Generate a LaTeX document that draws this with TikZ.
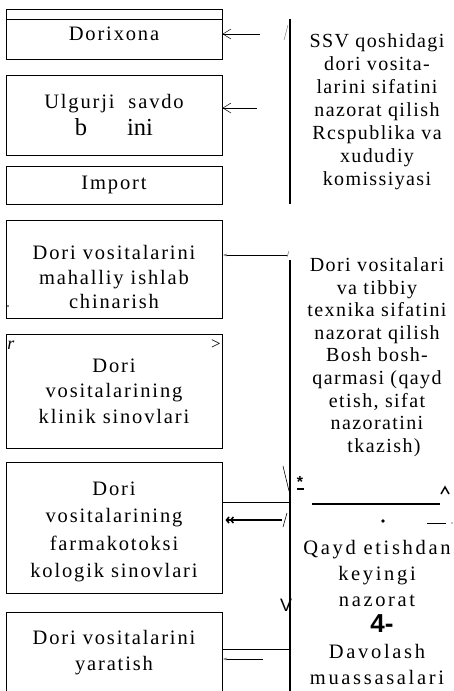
\documentclass[tikz,border=0pt]{standalone}
\usepackage{fontspec}
\setmainfont{Liberation Serif}
\newfontfamily\scanserif{Liberation Serif}[LetterSpace=9]
\newfontfamily\sidescan{Liberation Serif}[LetterSpace=7]
\newfontfamily\widescan{Liberation Serif}[LetterSpace=13]
\newfontfamily\scansans{Liberation Sans}
\usetikzlibrary{arrows.meta,positioning}
\newcommand\bigserif{\rmfamily\fontsize{24.5}{27}\selectfont}
\newcommand\bigsans{\scansans\bfseries\fontsize{26}{26}\selectfont}
\tikzset{
  plain box/.style={
    draw,
    line width=1pt,
    minimum width=216pt,
    inner sep=0pt,
    align=center,
    font=\scanserif\fontsize{20.5}{25.5}\selectfont
  },
  box text/.style={
    inner sep=0pt,
    align=center,
    font=\scanserif\fontsize{20.5}{26}\selectfont
  },
  side text/.style={
    inner sep=0pt,
    align=center,
    font=\sidescan\fontsize{20}{23}\selectfont
  },
  rule line/.style={line width=1.2pt},
  thin line/.style={line width=0.9pt},
  open tip/.style={-{Straight Barb[length=8pt,width=10pt,line width=0.5pt]}, line width=0.6pt},
  tiny tip/.style={-{Latex[length=4pt,width=3pt,gray]}, line width=0.7pt},
  double tip/.style={-{Straight Barb[length=2.5pt,width=6pt]Straight Barb[length=2.5pt,width=6pt]}, line width=1.6pt},
  scan mark/.style={inner sep=0pt, font=\rmfamily\fontsize{17}{20}\selectfont}
}

\begin{document}
\begin{tikzpicture}[x=1pt,y=-1pt]

  \useasboundingbox (0,0) rectangle (453,691);
  \clip (0,0) rectangle (453,691);

  % left column
  \node[plain box, minimum height=50pt] (dorixona) at (114,34) {Dorixona};
  \draw[thin line] ([yshift=-11pt]dorixona.north west) -- ([yshift=-11pt]dorixona.north east);
  \node[plain box, minimum height=80pt] (ulgurji) at (114,115) {Ulgurji\ \ savdo\\[1pt]{\bigserif b\hspace{40pt}ini}};
  \node[plain box, minimum height=38pt] (import) at (114,185) {Import};
  \node[plain box, minimum height=98pt] (mahalliybox) at (114,269) {};
  \node[box text, font=\scanserif\fontsize{20.5}{24.5}\selectfont] (mahalliy) at (114,277) {Dori vositalarini\\mahalliy ishlab\\chinarish};
  \node[plain box, minimum height=114pt] (klinik) at (114,391) {Dori\\vositalarining\\klinik sinovlari};
  \node[plain box, minimum height=131pt] (farmakobox) at (114,527.5) {};
  \node[box text, font=\scanserif\fontsize{20.5}{27.5}\selectfont] (farmako) at (114,532) {Dori\\vositalarining\\farmakotoksi\\kologik sinovlari};
  \node[plain box, minimum height=90pt] (yaratishbox) at (114,657) {};
  \node[box text] (yaratish) at (114,653) {Dori vositalarini\\yaratish};

  % right column
  \node[side text] (ssv) at (377,112) {SSV qoshidagi\\dori vosita-\\larini sifatini\\nazorat qilish\\Rcspublika va\\xududiy\\komissiyasi};
  \node[side text, font=\sidescan\fontsize{20}{22.6}\selectfont] (bosh) at (377,357) {Dori vositalari\\va tibbiy\\texnika sifatini\\nazorat qilish\\Bosh bosh-\\qarmasi (qayd\\etish, sifat\\nazoratini\\\hspace*{14pt}tkazish)};
  \node[side text, font=\widescan\fontsize{20.5}{26}\selectfont] (qayd) at (377,612) {Qayd etishdan\\keyingi\\nazorat\\{\bigsans\hspace*{10pt}4-}\\Davolash\\muassasalari};

  % vertical rules
  \coordinate (ssvtop) at (290,19);
  \coordinate (ssvbot) at (290,204);
  \draw[rule line] (ssvtop) -- (ssvbot);
  \coordinate (boshtop) at (290,260);
  \coordinate (boshbot) at (290,700);
  \draw[rule line] (boshtop) -- (boshbot);

  % arrows to the boxes
  \coordinate (a1) at (260,34);
  \draw[open tip] (a1) -- (dorixona.east);
  \coordinate (a2) at (257,108);
  \draw[open tip] (a2) -- (a2 -| ulgurji.east);
  \draw[line width=0.5pt, gray] (284,40) -- (288,25);

  \coordinate (b1) at (288,255);
  \draw[tiny tip] (b1) -- (b1 -| mahalliybox.east);
  \draw[line width=0.5pt, gray] (287,257) -- (289,251);

  \coordinate (c1) at (290,502);
  \draw[thin line] (c1) -- (c1 -| farmakobox.east);
  \coordinate (c2) at (282,520);
  \draw[double tip] (c2) -- ([xshift=3pt]c2 -| farmakobox.east);
  \draw[line width=0.6pt] (283,527) -- (287,513);
  \draw[line width=0.6pt] (283,466) -- (289,491);

  \coordinate (d1) at (290,649);
  \draw[thin line] (d1) -- (d1 -| yaratishbox.east);
  \coordinate (d2) at (263,659);
  \draw[tiny tip] (d2) -- (d2 -| yaratishbox.east);
  \node[scan mark, font=\scansans\fontsize{18}{20}\selectfont] (vmark) at (286,605) {V};

  % marks in the boxes
  \fill (8,306) circle (0.8pt);
  \node[scan mark, font=\itshape\fontsize{18}{20}\selectfont] (rmark) at (11,345) {r};
  \node[scan mark] (gtmark) at (216,345) {>};

  % separator on the right
  \coordinate (s1) at (312,504);
  \coordinate (s2) at (440,504);
  \draw[line width=2.4pt] (s1) -- (s2);
  \node[scan mark, font=\scansans\bfseries\fontsize{16}{20}\selectfont] (star) at (300,482) {*};
  \draw[line width=1.4pt] (297,489) -- (304,489);
  \draw[line width=1.5pt] (441,494) -- (445,487) -- (449,494);
  \fill (383,521) circle (1.8pt);
  \draw[line width=0.6pt] (427,523) -- (446,523);
  \fill (452,523) circle (0.6pt);

\end{tikzpicture}
\end{document}
